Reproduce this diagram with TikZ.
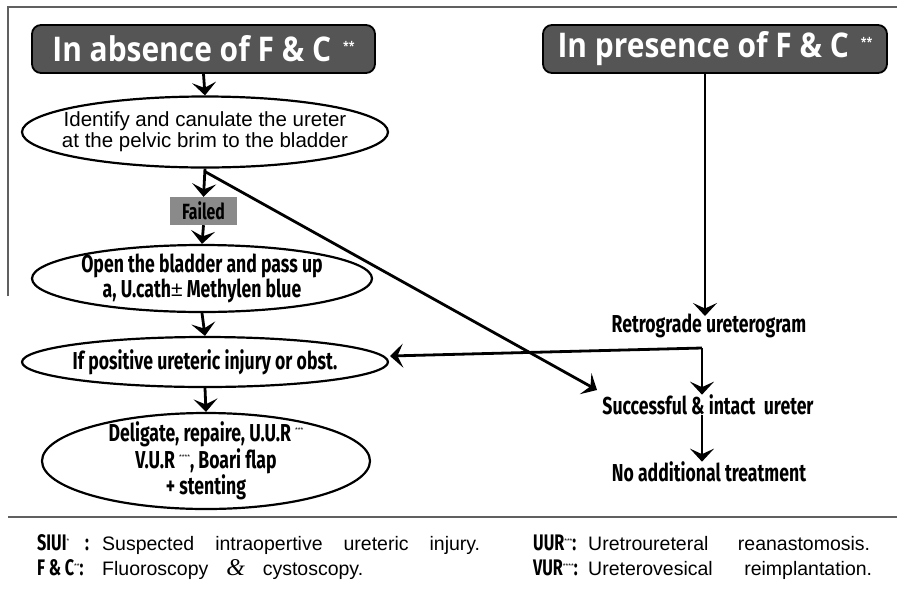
\documentclass[tikz,border=0pt]{standalone}
\usepackage{fontspec}
\setmainfont{Liberation Sans}
\newfontfamily\hdfont{Open Sans}[FakeStretch=0.88]
\newfontfamily\cdfont{Fira Sans}[FakeStretch=0.72]
\newfontfamily\ltfont{Liberation Sans}
\newfontfamily\ampfont{Liberation Serif}
\usetikzlibrary{shapes.geometric,arrows.meta,calc}
\definecolor{hdgray}{HTML}{555555}
\definecolor{flgray}{HTML}{8A8A8A}
\definecolor{rulegray}{HTML}{606060}
\begin{document}
\begin{tikzpicture}[x=1pt,y=-1pt,
 hdr/.style={draw=black, line width=1.8pt, rounded corners=9pt, fill=hdgray, text=white,
   font=\hdfont\bfseries\fontsize{34}{36}\selectfont, minimum width=343pt, minimum height=48pt, inner sep=0pt},
 ell/.style={draw=black, line width=2.2pt, ellipse, inner sep=0pt},
 etxt/.style={align=center, inner sep=0pt},
 bc/.style={font=\cdfont\bfseries\fontsize{24.5}{22}\selectfont, align=center, inner sep=0pt},
 arr/.style={line width=2.8pt, -{Stealth[length=13pt,width=24pt,inset=5.5pt]}},
 lab/.style={anchor=base west, inner sep=0pt, font=\cdfont\bfseries\fontsize{22.5}{20}\selectfont},
 dsc/.style={anchor=base west, inner sep=0pt, font=\ltfont\fontsize{19.5}{20}\selectfont}
]
\useasboundingbox (0,0) rectangle (897,590);
\fill[white] (0,0) rectangle (897,590);
% frame
\coordinate (ftl) at (8,7);
\coordinate (ftr) at (897,7);
\coordinate (fbl) at (8,296);
\coordinate (sl) at (8,517);
\coordinate (sr) at (897,517);
\draw[rulegray, line width=1.6pt] (fbl) -- (ftl) -- (ftr);
\draw[rulegray, line width=2.6pt] (sl) -- (sr);
% headers
\node[hdr] (hL) at (203.5,49) {In absence of F \& C\hspace{12pt}\raisebox{11pt}{\fontsize{12}{12}\selectfont **}};
\node[hdr, minimum width=344pt] (hR) at (715,49) {In presence of F \& C\hspace{12pt}\raisebox{11pt}{\fontsize{12}{12}\selectfont **}};
% left column
\node[ell, minimum width=366pt, minimum height=71pt] (e1) at (205,132) {};
\node[etxt, font=\fontsize{20.5}{21}\selectfont] (e1t) at (e1.center)
  {Identify and canulate the ureter\\at the pelvic brim to the bladder};
\node[fill=flgray, minimum width=67pt, minimum height=28pt, inner sep=0pt,
  font=\cdfont\bfseries\fontsize{22}{22}\selectfont] (fl) at (203.5,211) {Failed};
\node[ell, minimum width=340pt, minimum height=67pt] (e2) at (202,278.5) {};
\node[bc] (e2t) at (e2.center)
  {Open the bladder and pass up\\a, U.cath{\normalfont\mdseries\fontsize{21}{20}\selectfont\raisebox{1pt}{±}} Methylen blue};
\node[ell, minimum width=366pt, minimum height=50pt] (e3) at (205,362) {};
\node[bc] (e3t) at (e3.center) {If positive ureteric injury or obst.};
\node[ell, minimum width=328pt, minimum height=96pt] (e4) at (206,461) {};
\node[bc, font=\cdfont\bfseries\fontsize{24.5}{24}\selectfont] (e4t) at (e4.center)
  {Deligate, repaire, U.U.R\,\raisebox{9pt}{\normalfont\fontsize{7}{7}\selectfont ***}\\
   V.U.R\,\raisebox{9pt}{\normalfont\fontsize{7}{7}\selectfont ****}, Boari flap\\+ stenting};
% right column
\node[bc] (retro) at (709,326) {Retrograde ureterogram};
\node[bc] (succ) at (708,405) {Successful \& intact\ \ ureter};
\node[bc] (noadd) at (709,472) {No additional treatment};
\coordinate (j) at (702,348);
\coordinate (dtip) at (597,390);
\coordinate (ltip) at (390,356);
\coordinate (rtop) at (705,73);
\coordinate (rtip) at (705,316);
% connectors
\draw[arr] (hL.south) -- (e1.north);
\draw[arr] (e1.south) -- (fl.north);
\draw[arr] (fl.south) -- (e2.north);
\draw[arr] (e2.south) -- (e3.north);
\draw[arr] (e3.south) -- (e4.north);
\draw[arr] ([yshift=-3pt]e1.south) -- (dtip);
\draw[arr] (rtop) -- (rtip);
\draw[arr] (j) -- (ltip);
\draw[arr] (j) -- (j |- succ.north);
\draw[arr] (succ.south -| j) -- (noadd.north -| j);
% legend
\node[lab] (l1) at (37,550) {SIUI\raisebox{7pt}{\normalfont\fontsize{7}{7}\selectfont *}\hspace{16pt}:};
\node[dsc] (d1) at (102,550) {\makebox[378pt][s]{Suspected\ intraopertive\ ureteric\ injury.}};
\node[lab] (l2) at (37,575) {F\,\&\,C\raisebox{7pt}{\normalfont\fontsize{7}{7}\selectfont **}:};
\node[dsc] (d2) at (102,575) {\makebox[261pt][s]{Fluoroscopy\ {\ampfont\itshape\fontsize{24}{20}\selectfont \&}\ cystoscopy.}};
\node[lab] (l3) at (533,550) {UUR\raisebox{7pt}{\normalfont\fontsize{7}{7}\selectfont ***}:};
\node[dsc] (d3) at (588,550) {\makebox[282pt][s]{Uretroureteral\ reanastomosis.}};
\node[lab] (l4) at (533,575) {VUR\raisebox{7pt}{\normalfont\fontsize{7}{7}\selectfont ****}:};
\node[dsc] (d4) at (588,575) {\makebox[284pt][s]{Ureterovesical\ reimplantation.}};
\end{tikzpicture}
\end{document}
